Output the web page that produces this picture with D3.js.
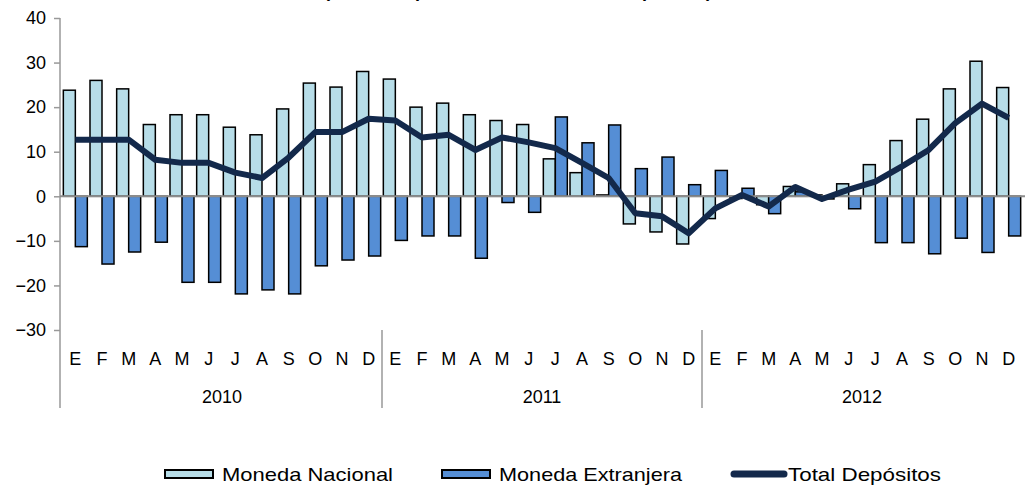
<!DOCTYPE html>
<html>
<head>
<meta charset="utf-8">
<script src="https://cdn.jsdelivr.net/npm/d3@7"></script>
<style>
  body { margin: 0; background: #fff; }
  svg { display: block; font-family: "Liberation Sans", Arial, sans-serif; }
</style>
</head>
<body>
<script>
// datos (variación %)
const months = ["E","F","M","A","M","J","J","A","S","O","N","D"];
const years = ["2010", "2011", "2012"];
const yTicks = [-30, -20, -10, 0, 10, 20, 30, 40];

const nacional = [23.8, 26.0, 24.1, 16.1, 18.3, 18.3, 15.5, 13.8, 19.6, 25.4, 24.5, 28.0,
  26.3, 20.0, 20.9, 18.3, 17.0, 16.1, 8.4, 5.3, 0.3, -6.2, -8.0, -10.7,
  -5.0, -0.5, -1.9, 2.2, 0.3, 2.8, 7.1, 12.5, 17.3, 24.1, 30.3, 24.4];

const extranjera = [-11.3, -15.2, -12.5, -10.3, -19.3, -19.3, -21.9, -21.0, -21.9, -15.6, -14.3, -13.4,
  -9.9, -8.9, -8.9, -13.9, -1.4, -3.6, 17.8, 12.0, 16.0, 6.2, 8.8, 2.6,
  5.8, 1.8, -3.9, 1.0, -0.6, -2.8, -10.4, -10.4, -12.9, -9.4, -12.6, -8.9];

const total = [12.7, 12.7, 12.7, 8.2, 7.5, 7.5, 5.3, 4.1, 8.7, 14.4, 14.4, 17.4,
  17.0, 13.2, 13.8, 10.4, 13.2, 12.1, 10.8, 7.5, 4.1, -3.8, -4.5, -8.3,
  -2.7, 0.3, -2.3, 2.1, -0.6, 1.5, 3.3, 6.7, 10.4, 16.4, 20.8, 17.6];

const seriesNames = ["Moneda Nacional", "Moneda Extranjera", "Total Depósitos"];
const colors = ["#b7dde8", "#558ed5", "#13294b"];

const width = 1025, height = 489;
const mLeft = 62, mRight = 1022, mTop = 18, mBottom = 330;

const svg = d3.select("body").append("svg")
  .attr("width", width)
  .attr("height", height);

// titulo (cortado arriba en el original)
svg.append("text")
  .attr("x", 518).attr("y", -3)
  .attr("text-anchor", "middle")
  .style("font-size", "18px").style("font-weight", "bold")
  .text("(Variación porcentual anual de los depósitos)");

// escalas
const idx = d3.range(total.length);
const x = d3.scaleBand().domain(idx).range([mLeft, mRight]).paddingInner(0.1).paddingOuter(0.05);
const xs = d3.scaleBand().domain([0, 1]).range([0, x.bandwidth()]);
const y = d3.scaleLinear().domain([-30, 40]).range([mBottom, mTop]);
const step = (mRight - mLeft) / total.length;
const cx = i => mLeft + (i + 0.5) * step;

// eje y
const yAxis = d3.axisLeft(y).tickValues(yTicks).tickSize(6).tickFormat(d3.format("d"));
const gy = svg.append("g")
  .attr("transform", "translate(" + (mLeft - 2) + ",0)")
  .call(yAxis);
gy.select(".domain").remove();
gy.selectAll(".tick line").attr("stroke", "#999").attr("stroke-width", 1.5);
gy.selectAll(".tick text").attr("x", -14).style("font-size", "18px").attr("fill", "#000");
svg.append("line")
  .attr("x1", mLeft - 2).attr("x2", mLeft - 2)
  .attr("y1", mTop).attr("y2", 408)
  .attr("stroke", "#999").attr("stroke-width", 1.5);

// barras
const series = [nacional, extranjera];
series.forEach((vals, s) => {
  svg.append("g").selectAll("rect")
    .data(vals)
    .enter()
    .append("rect")
    .attr("x", (d, i) => x(i) + xs(s))
    .attr("width", xs.bandwidth())
    .attr("y", d => y(Math.max(0, d)))
    .attr("height", d => Math.abs(y(d) - y(0)))
    .attr("fill", colors[s])
    .attr("stroke", "#000")
    .attr("stroke-width", 1.5);
});

// linea del cero
svg.append("line")
  .attr("x1", mLeft - 2).attr("x2", width)
  .attr("y1", y(0)).attr("y2", y(0))
  .attr("stroke", "#8c8c8c").attr("stroke-width", 2);

// total depositos
const line = d3.line().x((d, i) => cx(i)).y(d => y(d));
svg.append("path")
  .datum(total)
  .attr("d", line)
  .attr("fill", "none")
  .attr("stroke", colors[2])
  .attr("stroke-width", 6)
  .attr("stroke-linejoin", "round");

// etiquetas de meses y años
svg.append("g").selectAll("text")
  .data(idx)
  .enter()
  .append("text")
  .attr("x", i => cx(i))
  .attr("y", 365)
  .attr("text-anchor", "middle")
  .style("font-size", "18px")
  .text(i => months[i % 12]);

svg.append("g").selectAll("text")
  .data(years)
  .enter()
  .append("text")
  .attr("x", (d, i) => mLeft + (i * 12 + 6) * step)
  .attr("y", 403)
  .attr("text-anchor", "middle")
  .style("font-size", "18px")
  .text(d => d);

svg.append("g").selectAll("line")
  .data([1, 2])
  .enter()
  .append("line")
  .attr("x1", d => mLeft + d * 12 * step).attr("x2", d => mLeft + d * 12 * step)
  .attr("y1", mBottom).attr("y2", 408)
  .attr("stroke", "#999").attr("stroke-width", 1.5);

// leyenda
const legendX = [165, 442, 731];
const legendW = [171, 183, 153];
const legend = svg.append("g").selectAll("g")
  .data(seriesNames)
  .enter()
  .append("g")
  .attr("transform", (d, i) => "translate(" + legendX[i] + ",474)");

legend.filter((d, i) => i < 2)
  .append("rect")
  .attr("x", 0).attr("y", -4)
  .attr("width", 48).attr("height", 8)
  .attr("fill", (d, i) => colors[i])
  .attr("stroke", "#000")
  .attr("stroke-width", 2);

legend.filter((d, i) => i === 2)
  .append("line")
  .attr("x1", 3).attr("x2", 53)
  .attr("stroke", colors[2])
  .attr("stroke-width", 7)
  .attr("stroke-linecap", "round");

legend.append("text")
  .attr("x", 57)
  .attr("y", 7)
  .attr("textLength", (d, i) => legendW[i])
  .attr("lengthAdjust", "spacingAndGlyphs")
  .style("font-size", "19px")
  .text(d => d);
</script>
</body>
</html>
